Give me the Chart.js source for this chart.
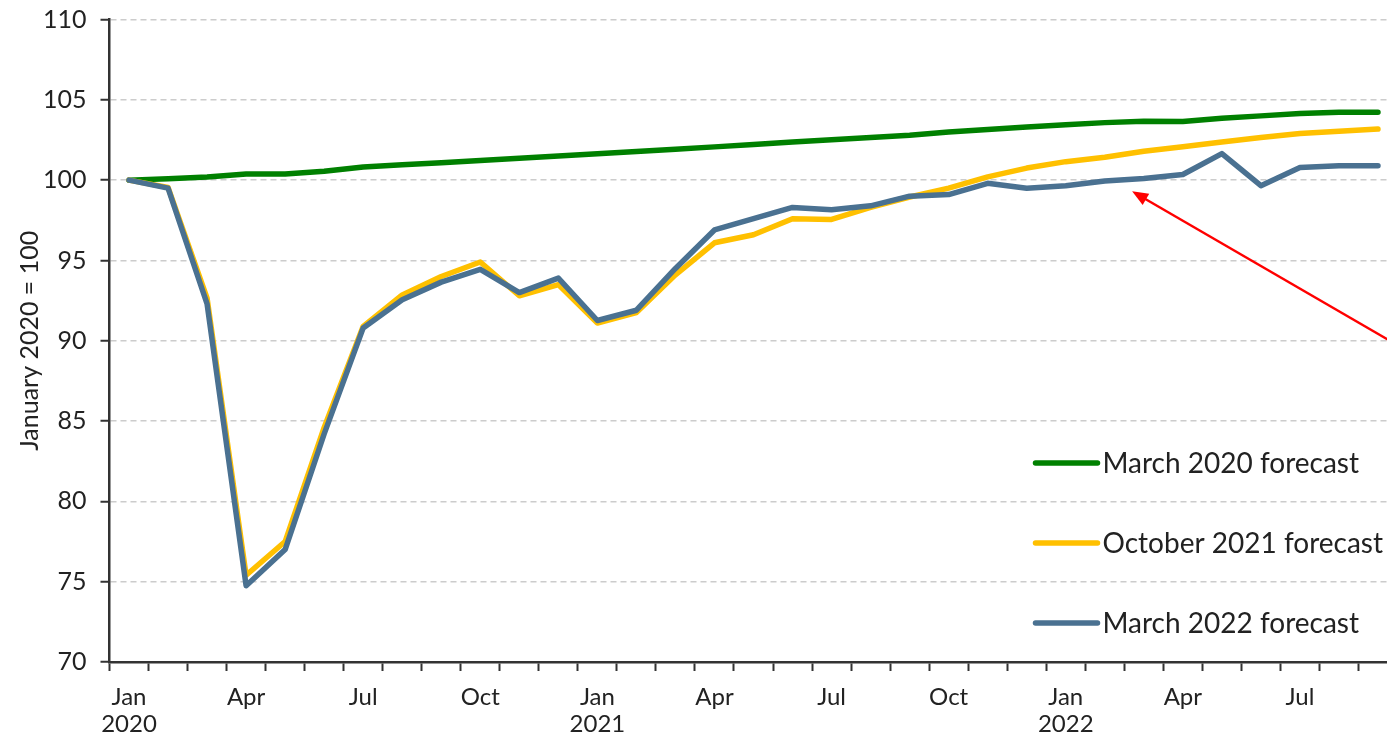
<!DOCTYPE html>
<html>
<head>
<meta charset="utf-8">
<script src="https://cdn.jsdelivr.net/npm/chart.js@4/dist/chart.umd.min.js"></script>
<style>
html,body{margin:0;padding:0;background:#fff;overflow:hidden;width:1387px;height:735px}
#wrap{position:absolute;left:0;top:0;width:1400px;height:735px}
</style>
</head>
<body>
<div id="wrap"><canvas id="c" width="1400" height="735"></canvas></div>
<script>
const categories = [
  'Jan 2020','Feb 2020','Mar 2020','Apr 2020','May 2020','Jun 2020','Jul 2020','Aug 2020','Sep 2020','Oct 2020','Nov 2020','Dec 2020',
  'Jan 2021','Feb 2021','Mar 2021','Apr 2021','May 2021','Jun 2021','Jul 2021','Aug 2021','Sep 2021','Oct 2021','Nov 2021','Dec 2021',
  'Jan 2022','Feb 2022','Mar 2022','Apr 2022','May 2022','Jun 2022','Jul 2022','Aug 2022','Sep 2022'
];
const march2020Forecast = [
  100.0,100.08,100.2,100.38,100.38,100.55,100.82,100.95,101.08,101.22,101.36,101.5,
  101.64,101.78,101.92,102.07,102.22,102.37,102.52,102.66,102.8,103.0,103.15,103.3,
  103.45,103.58,103.67,103.65,103.85,104.0,104.15,104.22,104.22
];
const october2021Forecast = [
  100.0,99.55,92.65,75.4,77.5,84.6,90.9,92.85,94.0,94.9,92.8,93.5,
  91.1,91.75,94.1,96.1,96.6,97.6,97.55,98.3,98.95,99.5,100.2,100.75,
  101.15,101.42,101.8,102.08,102.38,102.65,102.9,103.05,103.18
];
const march2022Forecast = [
  100.0,99.5,92.3,74.75,77.0,84.2,90.8,92.55,93.65,94.45,93.0,93.9,
  91.26,91.9,94.5,96.9,97.6,98.3,98.15,98.4,99.0,99.1,99.8,99.5,
  99.65,99.95,100.1,100.35,101.65,99.65,100.78,100.9,100.9
];
const seriesNames = ['March 2020 forecast','October 2021 forecast','March 2022 forecast'];
const seriesColors = ['#008000','#ffc000','#4a7191'];
const yTicks = {min: 70, max: 110, step: 5};
const tickMonths = ['Jan','Apr','Jul','Oct'];
const arrowFrom = {x: 33.3, y: 88.6};
const arrowTo = {x: 25.7, y: 99.3};

const FONT = 'Lato, "Open Sans", sans-serif';
const TEXT = '#222';

const legendPlugin = {
  id: 'customLegend',
  afterDatasetsDraw(chart) {
    const {ctx, chartArea: a} = chart;
    ctx.save();
    chart.data.datasets.forEach((ds, i) => {
      const x0 = a.right - 362;
      const y = a.bottom - 199 + i * 80;
      ctx.strokeStyle = ds.borderColor;
      ctx.lineWidth = 5.5;
      ctx.lineCap = 'round';
      ctx.beginPath();
      ctx.moveTo(x0, y);
      ctx.lineTo(x0 + 62, y);
      ctx.stroke();
      ctx.fillStyle = TEXT;
      ctx.font = '28px ' + FONT;
      ctx.textBaseline = 'middle';
      ctx.textAlign = 'left';
      ctx.fillText(ds.label, x0 + 67, y + 1);
    });
    ctx.restore();
  }
};

const arrowPlugin = {
  id: 'arrow',
  afterDraw(chart) {
    const {ctx} = chart;
    const xs = chart.scales.x, ys = chart.scales.y;
    const x1 = xs.getPixelForValue(arrowFrom.x), y1 = ys.getPixelForValue(arrowFrom.y);
    const x2 = xs.getPixelForValue(arrowTo.x), y2 = ys.getPixelForValue(arrowTo.y);
    const ang = Math.atan2(y2 - y1, x2 - x1);
    const hl = 16, hw = 6.5;
    ctx.save();
    ctx.strokeStyle = '#ff0000';
    ctx.fillStyle = '#ff0000';
    ctx.lineWidth = 2.5;
    ctx.beginPath();
    ctx.moveTo(x1, y1);
    ctx.lineTo(x2 - Math.cos(ang) * hl * 0.8, y2 - Math.sin(ang) * hl * 0.8);
    ctx.stroke();
    ctx.beginPath();
    ctx.moveTo(x2, y2);
    ctx.lineTo(x2 - Math.cos(ang) * hl - Math.sin(ang) * hw, y2 - Math.sin(ang) * hl + Math.cos(ang) * hw);
    ctx.lineTo(x2 - Math.cos(ang) * hl + Math.sin(ang) * hw, y2 - Math.sin(ang) * hl - Math.cos(ang) * hw);
    ctx.closePath();
    ctx.fill();
    ctx.restore();
  }
};

const seriesData = [march2020Forecast, october2021Forecast, march2022Forecast];
const drawOrder = [2, 1, 0];

new Chart(document.getElementById('c'), {
  type: 'line',
  data: {
    labels: categories,
    datasets: seriesData.map((d, i) => ({
      label: seriesNames[i],
      data: d,
      borderColor: seriesColors[i],
      backgroundColor: seriesColors[i],
      borderWidth: 5.5,
      pointRadius: 0,
      tension: 0,
      fill: false,
      borderJoinStyle: 'round',
      borderCapStyle: 'round',
      order: drawOrder[i]
    }))
  },
  options: {
    responsive: false,
    animation: false,
    devicePixelRatio: 1,
    layout: {padding: {top: 19.5, right: 2.5, left: 0, bottom: 0}},
    plugins: {legend: {display: false}, tooltip: {enabled: false}},
    scales: {
      x: {
        type: 'category',
        offset: true,
        grid: {
          display: true, offset: true, drawOnChartArea: false, drawTicks: true,
          tickLength: 9, tickColor: '#333', tickWidth: 2
        },
        border: {display: true, color: '#333', width: 2.5},
        ticks: {
          autoSkip: false, maxRotation: 0, minRotation: 0, padding: 12,
          color: TEXT, font: {family: FONT, size: 24, lineHeight: 1.15},
          callback(v, i) {
            const parts = categories[i].split(' ');
            if (parts[0] === 'Jan') return [parts[0], parts[1]];
            return tickMonths.includes(parts[0]) ? parts[0] : '';
          }
        },
        afterFit(s) { s.height = 73; s.paddingLeft = 0; s.paddingRight = 0; }
      },
      y: {
        min: yTicks.min, max: yTicks.max,
        ticks: {stepSize: yTicks.step, padding: 14, color: TEXT, font: {family: FONT, size: 25}},
        grid: {
          color: '#cccccc', lineWidth: 1.5,
          drawTicks: true, tickLength: 9, tickColor: '#333', tickWidth: 2, tickBorderDash: []
        },
        border: {display: true, color: '#333', width: 2.5, dash: [6, 4]},
        title: {
          display: true, text: 'January 2020 = 100', color: TEXT,
          font: {family: FONT, size: 25, lineHeight: 1.2}, padding: {top: 15, bottom: 0}
        },
        afterFit(s) { s.width = 109.5; s.paddingTop = 0; s.paddingBottom = 0; }
      }
    }
  },
  plugins: [legendPlugin, arrowPlugin]
});
</script>
</body>
</html>
